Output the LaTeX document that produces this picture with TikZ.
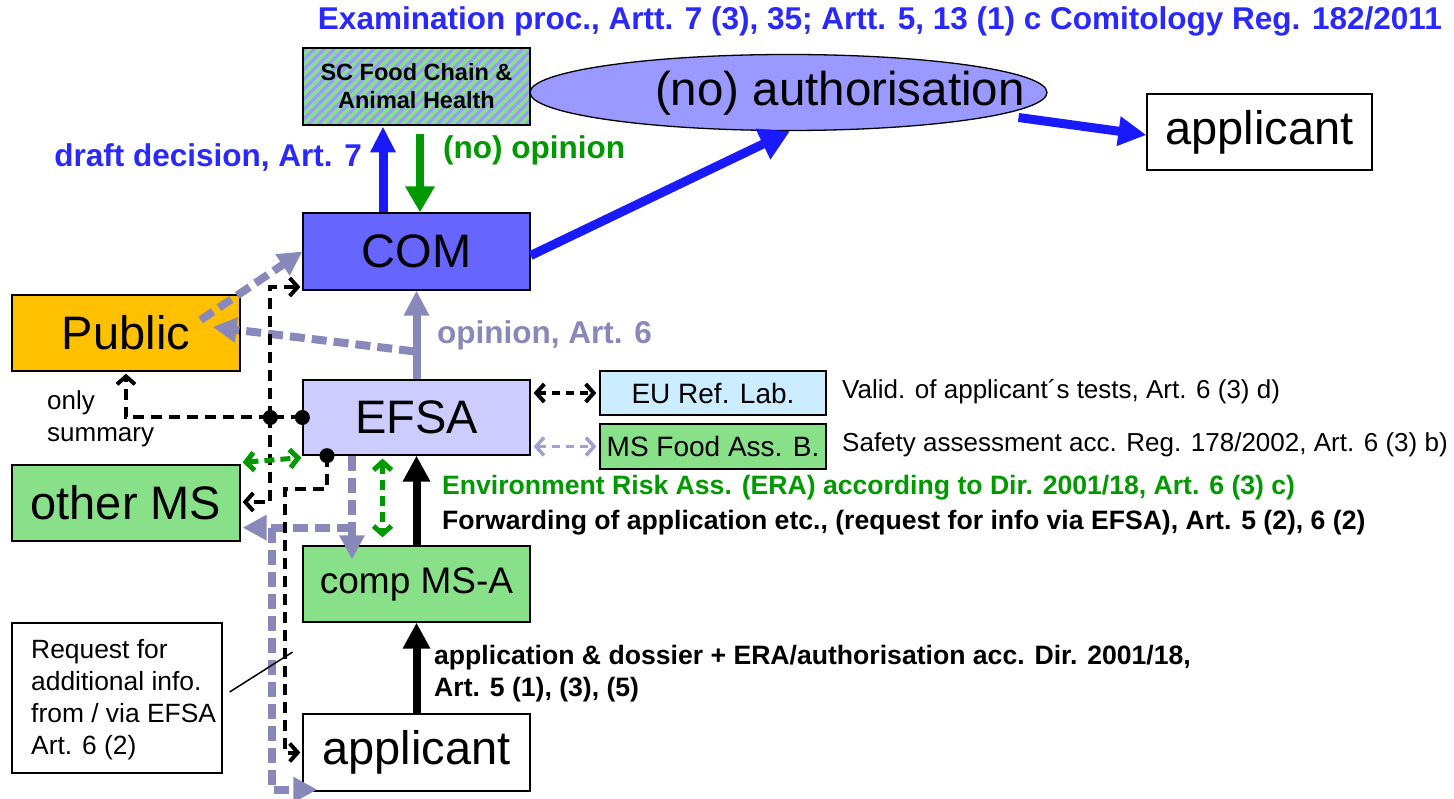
\documentclass[tikz,border=0pt]{standalone}
\usepackage{fontspec}
\setmainfont{Liberation Sans}
\usetikzlibrary{arrows.meta,shapes.geometric,patterns.meta,calc}
\definecolor{comblue}{RGB}{102,102,255}
\definecolor{authblue}{RGB}{153,153,255}
\definecolor{efsabg}{RGB}{204,204,255}
\definecolor{mgreen}{RGB}{136,224,136}
\definecolor{pubor}{RGB}{255,192,0}
\definecolor{eublue}{RGB}{204,236,255}
\definecolor{ablue}{RGB}{26,26,255}
\definecolor{tblue}{RGB}{40,40,255}
\definecolor{lgray}{RGB}{136,136,187}
\definecolor{llgray}{RGB}{160,160,210}
\definecolor{tgreen}{RGB}{0,153,0}
\definecolor{hatch}{RGB}{153,153,255}
\newcommand\bigfnt{\fontsize{47}{54}\selectfont}
\newcommand\lblfnt{\fontsize{31.5}{36}\selectfont\bfseries}
\newcommand\midfnt{\fontsize{26}{32}\selectfont}
\newcommand\midbfnt{\fontsize{26.6}{32}\selectfont\bfseries}
\newcommand\boxfnt{\fontsize{28}{32}\selectfont}
\newcommand\compfnt{\fontsize{37}{42}\selectfont}
\newcommand\scfnt{\fontsize{23.5}{28}\selectfont\bfseries}
\begin{document}
\begin{tikzpicture}[x=1pt,y=-1pt,
  box/.style={draw=black, line width=1.3pt, minimum width=227pt, minimum height=77pt, inner sep=1pt, font=\bigfnt},
  smallbox/.style={draw=black, line width=1.3pt, minimum width=226pt, minimum height=44pt, inner sep=1pt, font=\boxfnt},
  lbl/.style={inner sep=0pt, font=\lblfnt},
  mlbl/.style={inner sep=0pt, font=\midfnt},
  blarrow/.style={draw=ablue, line width=9pt, -{Triangle[length=26pt,width=24pt]}},
  blarrowbig/.style={draw=ablue, line width=9pt, -{Triangle[length=30pt,width=32pt]}},
  grarrow/.style={draw=tgreen, line width=8pt, -{Triangle[length=26pt,width=28pt]}},
  gyarrow/.style={draw=lgray, line width=8pt, -{Triangle[length=25pt,width=24pt]}},
  gydash/.style={draw=lgray, line width=8pt, dash pattern=on 15pt off 7pt, -{Triangle[length=24pt,width=24pt]}},
  bkarrow/.style={draw=black, line width=8pt, -{Triangle[length=26pt,width=26pt]}},
  bkdash/.style={draw=black, line width=4pt, dash pattern=on 11pt off 7pt},
  barb/.style={-{Straight Barb[length=8pt,width=18pt]}},
  grdash/.style={draw=tgreen, line width=5pt, dash pattern=on 10pt off 6pt, {Straight Barb[length=8pt,width=18pt]}-{Straight Barb[length=8pt,width=18pt]}},
]
\useasboundingbox (0,0) rectangle (1454,799);

% ---- nodes
\node[box, fill=comblue] (com) at (416.5,251.5) {COM};
\node[box, preaction={fill=mgreen}, pattern={Lines[angle=45,distance=7pt,line width=3pt]}, pattern color=hatch, font=\scfnt, align=center] (sc) at (416.5,86.5) {SC Food Chain \&\\Animal Health};
\node[draw=black, line width=1.3pt, ellipse, fill=authblue, minimum width=517pt, minimum height=76pt, inner sep=0pt] (auth) at (788.5,92.5) {};
\node[inner sep=0pt, font=\fontsize{47.5}{54}\selectfont] (authtxt) at (840,93) {(no) authorisation};
\node[box, fill=white, minimum width=225pt, minimum height=76pt] (app1) at (1259.5,132) {applicant};
\node[box, fill=pubor, minimum width=228pt, minimum height=76pt] (pub) at (126,333) {Public};
\node[box, fill=efsabg, minimum height=75pt] (efsa) at (416.5,417.5) {EFSA};
\node[smallbox, fill=eublue] (eu) at (713,393) {EU Ref. Lab.};
\node[smallbox, fill=mgreen, minimum height=45pt] (msf) at (713,446.5) {MS Food Ass. B.};
\node[box, fill=mgreen, minimum width=228pt, minimum height=76pt] (oms) at (126,503) {other MS};
\node[box, fill=mgreen, minimum height=76pt, font=\compfnt] (comp) at (416.5,584) {comp MS-A};
\node[box, fill=white] (app2) at (416.5,752.5) {applicant};
\node[draw=black, line width=1.3pt, minimum width=210pt, minimum height=150pt, inner sep=0pt] (req) at (117,698) {};
\node[mlbl, font=\fontsize{26.4}{32}\selectfont, anchor=west, align=left] (reqtxt) at (31,700) {Request for\\additional info.\\from / via EFSA\\Art. 6 (2)};

% ---- labels
\node[lbl, text=tblue, anchor=east] (title) at (1442,21) {Examination proc., Artt. 7 (3), 35; Artt. 5, 13 (1) c Comitology Reg. 182/2011};
\node[lbl, text=tblue, anchor=east] (draft) at (362,158) {draft decision, Art. 7};
\node[lbl, text=tgreen, anchor=west] (noop) at (443,150) {(no) opinion};
\node[lbl, text=lgray, anchor=west] (opart) at (437,335) {opinion, Art. 6};
\node[mlbl, anchor=west] (valid) at (842,392) {Valid. of applicant´s tests, Art. 6 (3) d)};
\node[mlbl, anchor=west] (safety) at (842,445) {Safety assessment acc. Reg. 178/2002, Art. 6 (3) b)};
\node[mlbl, font=\midbfnt, text=tgreen, anchor=west] (era) at (442,488) {Environment Risk Ass. (ERA) according to Dir. 2001/18, Art. 6 (3) c)};
\node[mlbl, font=\midbfnt, anchor=west] (fwd) at (442,523) {Forwarding of application etc., (request for info via EFSA), Art. 5 (2), 6 (2)};
\node[mlbl, font=\midbfnt, anchor=west, align=left] (appdos) at (434,674) {application \& dossier + ERA/authorisation acc. Dir. 2001/18,\\Art. 5 (1), (3), (5)};
\node[mlbl, anchor=west, align=left] (summ) at (47,419) {only\\summary};

% ---- coordinates
\coordinate (d1) at (efsa.west);
\coordinate (j1) at ($(efsa.west)+(-32,0)$);
\coordinate (d2) at ($(efsa.south)+(-89.5,0)$);
\coordinate (c1) at ($(d2)+(-42,33)$);
\coordinate (g0) at ($(efsa.south)+(-64.5,0)$);
\coordinate (g1) at ($(g0)+(0,72)$);
\coordinate (g2) at ($(g1 -| oms.east)+(31,0)$);

% ---- top connectors
\draw[blarrow] ($(com.north)+(-33.5,0)$) -- ($(sc.south)+(-33.5,0)$);
\draw[grarrow] ($(sc.south)+(3.5,8)$) -- ($(com.north)+(3.5,0)$);
\draw[blarrowbig] ($(com.east)+(0,4)$) -- ($(auth.south)+(1.5,0)$);
\draw[draw=ablue, line width=9pt, -{Triangle[length=28pt,width=28pt]}] ($(auth.center)+(230,25)$) -- ($(app1.west)+(0,3)$);

% ---- gray connectors
\draw[gyarrow] (efsa.north) -- (com.south);
\draw[gydash] ($(efsa.north)+(-2.5,-28)$) -- ($(pub.east)+(-28,-6)$);
\draw[gydash] ($(pub.east)+(-40,-13)$) -- (com.west);
\draw[gydash] (g0) -- ($(comp.north -| g0)+(0,14)$);
\draw[gydash] (g1) -- ($(g1 -| oms.east)+(2,0)$);
\draw[gydash] (g2) |- ($(app2.south west)+(15,-2)$);

% ---- black dashed
\draw[bkdash] (d1) -- (j1);
\draw[bkdash, barb] (j1) |- ($(com.west)+(-2,35.5)$);
\draw[bkdash, barb] (j1) -| ($(pub.south)+(0,2)$);
\draw[bkdash, barb] (j1) |- ($(oms.east)+(2,-1)$);
\draw[bkdash, barb] (d2) |- (c1) |- ($(app2.west)+(-2,0)$);
\fill (d1) circle (7.5);
\fill (j1) circle (7.5);
\fill (d2) circle (7.5);

% ---- green dashed
\draw[grdash] ($(oms.north east)+(2,-2)$) -- ($(efsa.south west)+(-1,2)$);
\draw[grdash] ($(efsa.south)+(-34,3)$) -- ($(comp.north)+(-34,-8)$);

% ---- black solid
\draw[bkarrow] (comp.north) -- (efsa.south);
\draw[bkarrow] (app2.north) -- (comp.south);

% ---- EU / MS Food
\draw[bkdash, dash pattern=on 8pt off 6pt, {Straight Barb[length=8pt,width=18pt]}-{Straight Barb[length=8pt,width=18pt]}] ($(eu.west -| efsa.east)+(3,0)$) -- ($(eu.west)+(-3,0)$);
\draw[draw=llgray, line width=3.5pt, dash pattern=on 8pt off 6pt, {Straight Barb[length=8pt,width=18pt]}-{Straight Barb[length=8pt,width=18pt]}] ($(msf.west -| efsa.east)+(3,0)$) -- ($(msf.west)+(-3,0)$);

% ---- request pointer
\draw[line width=1.5pt] ($(req.east)+(7,-6)$) -- ($(req.east)+(70,-46)$);
\end{tikzpicture}
\end{document}
